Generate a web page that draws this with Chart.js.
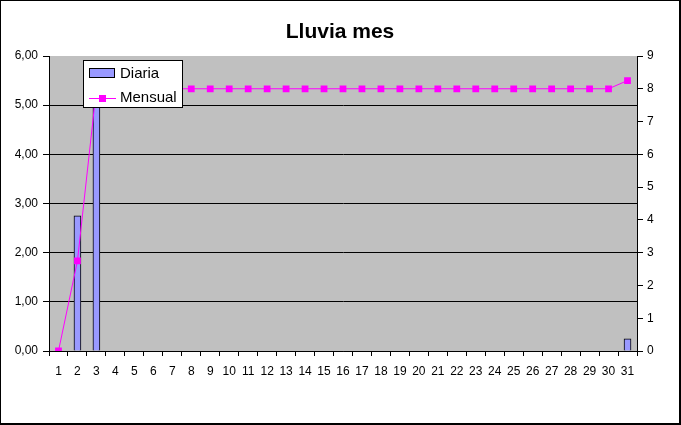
<!DOCTYPE html>
<html>
<head>
<meta charset="utf-8">
<script src="https://cdn.jsdelivr.net/npm/chart.js@4"></script>
<style>
  html, body { margin: 0; padding: 0; background: #fff; }
  #marco {
    width: 681px; height: 425px; box-sizing: border-box;
    border-left: 1px solid #000; border-top: 1px solid #000;
    border-right: 2px solid #000; border-bottom: 2px solid #000;
  }
  canvas { display: block; }
</style>
</head>
<body>
<div id="marco"><canvas id="grafico" width="678" height="422"></canvas></div>
<script>
const dias = ['1','2','3','4','5','6','7','8','9','10','11','12','13','14','15','16',
  '17','18','19','20','21','22','23','24','25','26','27','28','29','30','31'];
const diaria = [0, 2.75, 5.25, 0, 0, 0, 0, 0, 0, 0, 0, 0, 0, 0, 0, 0,
  0, 0, 0, 0, 0, 0, 0, 0, 0, 0, 0, 0, 0, 0, 0.25];
const mensual = [0, 2.75, 8, 8, 8, 8, 8, 8, 8, 8, 8, 8, 8, 8, 8, 8,
  8, 8, 8, 8, 8, 8, 8, 8, 8, 8, 8, 8, 8, 8, 8.25];
const ejeIzq = { min: 0, max: 6, paso: 1 };
const ejeDer = { min: 0, max: 9, paso: 1 };

const fuente = "'Liberation Sans', Arial, sans-serif";
const negro = '#000000';

// fondo gris del area de trazado
const fondoGris = {
  id: 'fondoGris',
  beforeDraw(chart) {
    const a = chart.chartArea;
    const c = chart.ctx;
    c.save();
    c.fillStyle = '#C0C0C0';
    c.fillRect(a.left, a.top, a.right - a.left, a.bottom - a.top);
    c.restore();
  }
};

// leyenda con recuadro dentro del area de trazado
const leyendaCaja = {
  id: 'leyendaCaja',
  afterDraw(chart) {
    const c = chart.ctx;
    const a = chart.chartArea;
    const x = a.left + 34, y = a.top + 4, w = 100, h = 48;
    const ds = chart.data.datasets;
    c.save();
    c.fillStyle = '#fff';
    c.fillRect(x, y, w, h);
    c.strokeStyle = negro;
    c.lineWidth = 1;
    c.strokeRect(x + 0.5, y + 0.5, w - 1, h - 1);

    // Diaria
    c.fillStyle = ds[1].backgroundColor;
    c.fillRect(x + 6, y + 8, 26, 10);
    c.strokeRect(x + 6.5, y + 8.5, 25, 9);

    // Mensual
    c.strokeStyle = ds[0].borderColor;
    c.beginPath();
    c.moveTo(x + 6, y + 38.5);
    c.lineTo(x + 33, y + 38.5);
    c.stroke();
    c.fillStyle = ds[0].borderColor;
    c.fillRect(x + 16, y + 35, 7, 7);

    c.fillStyle = negro;
    c.font = '15px ' + fuente;
    c.textBaseline = 'alphabetic';
    c.fillText(ds[1].label, x + 37, y + 18);
    c.fillText(ds[0].label, x + 37, y + 42);
    c.restore();
  }
};

const ctx = document.getElementById('grafico').getContext('2d');
const grafico = new Chart(ctx, {
  type: 'bar',
  data: {
    labels: dias,
    datasets: [{
      type: 'line',
      label: 'Mensual',
      data: mensual,
      yAxisID: 'y1',
      borderColor: '#FF00FF',
      backgroundColor: '#FF00FF',
      borderWidth: 1,
      pointStyle: 'rect',
      pointRadius: 4.8,
      pointBorderWidth: 0,
      pointBackgroundColor: '#FF00FF',
      tension: 0,
      order: 0
    }, {
      type: 'bar',
      label: 'Diaria',
      data: diaria,
      yAxisID: 'y',
      backgroundColor: '#9999FF',
      borderColor: negro,
      borderWidth: 1,
      barThickness: 7,
      order: 1
    }]
  },
  options: {
    responsive: false,
    animation: false,
    layout: { padding: 0 },
    plugins: {
      legend: { display: false },
      tooltip: { enabled: false },
      title: {
        display: true,
        text: 'Lluvia mes',
        color: negro,
        font: { family: fuente, size: 21, weight: 'bold', lineHeight: 1 },
        padding: { top: 21, bottom: 13 }
      }
    },
    scales: {
      x: {
        offset: true,
        grid: { offset: true, drawOnChartArea: false, tickLength: 5, tickColor: negro },
        border: { color: negro },
        ticks: { color: negro, font: { family: fuente, size: 12 }, autoSkip: false, maxRotation: 0, padding: 8 },
        afterFit(s) { s.height = 72; }
      },
      y: {
        position: 'left',
        min: ejeIzq.min,
        max: ejeIzq.max,
        grid: {
          color: c => c.tick && c.tick.value === ejeIzq.max ? 'rgba(0,0,0,0)' : negro,
          tickColor: negro,
          tickLength: 6
        },
        border: { color: negro },
        ticks: {
          stepSize: ejeIzq.paso,
          color: negro,
          padding: 5,
          font: { family: fuente, size: 12 },
          callback: v => v.toFixed(2).replace('.', ',')
        },
        afterFit(s) { s.width = 48; }
      },
      y1: {
        position: 'right',
        min: ejeDer.min,
        max: ejeDer.max,
        grid: { drawOnChartArea: false, tickColor: negro, tickLength: 6 },
        border: { color: negro },
        ticks: { stepSize: ejeDer.paso, color: negro, padding: 4, font: { family: fuente, size: 12 } },
        afterFit(s) { s.width = 42; }
      }
    }
  },
  plugins: [fondoGris, leyendaCaja]
});
</script>
</body>
</html>
